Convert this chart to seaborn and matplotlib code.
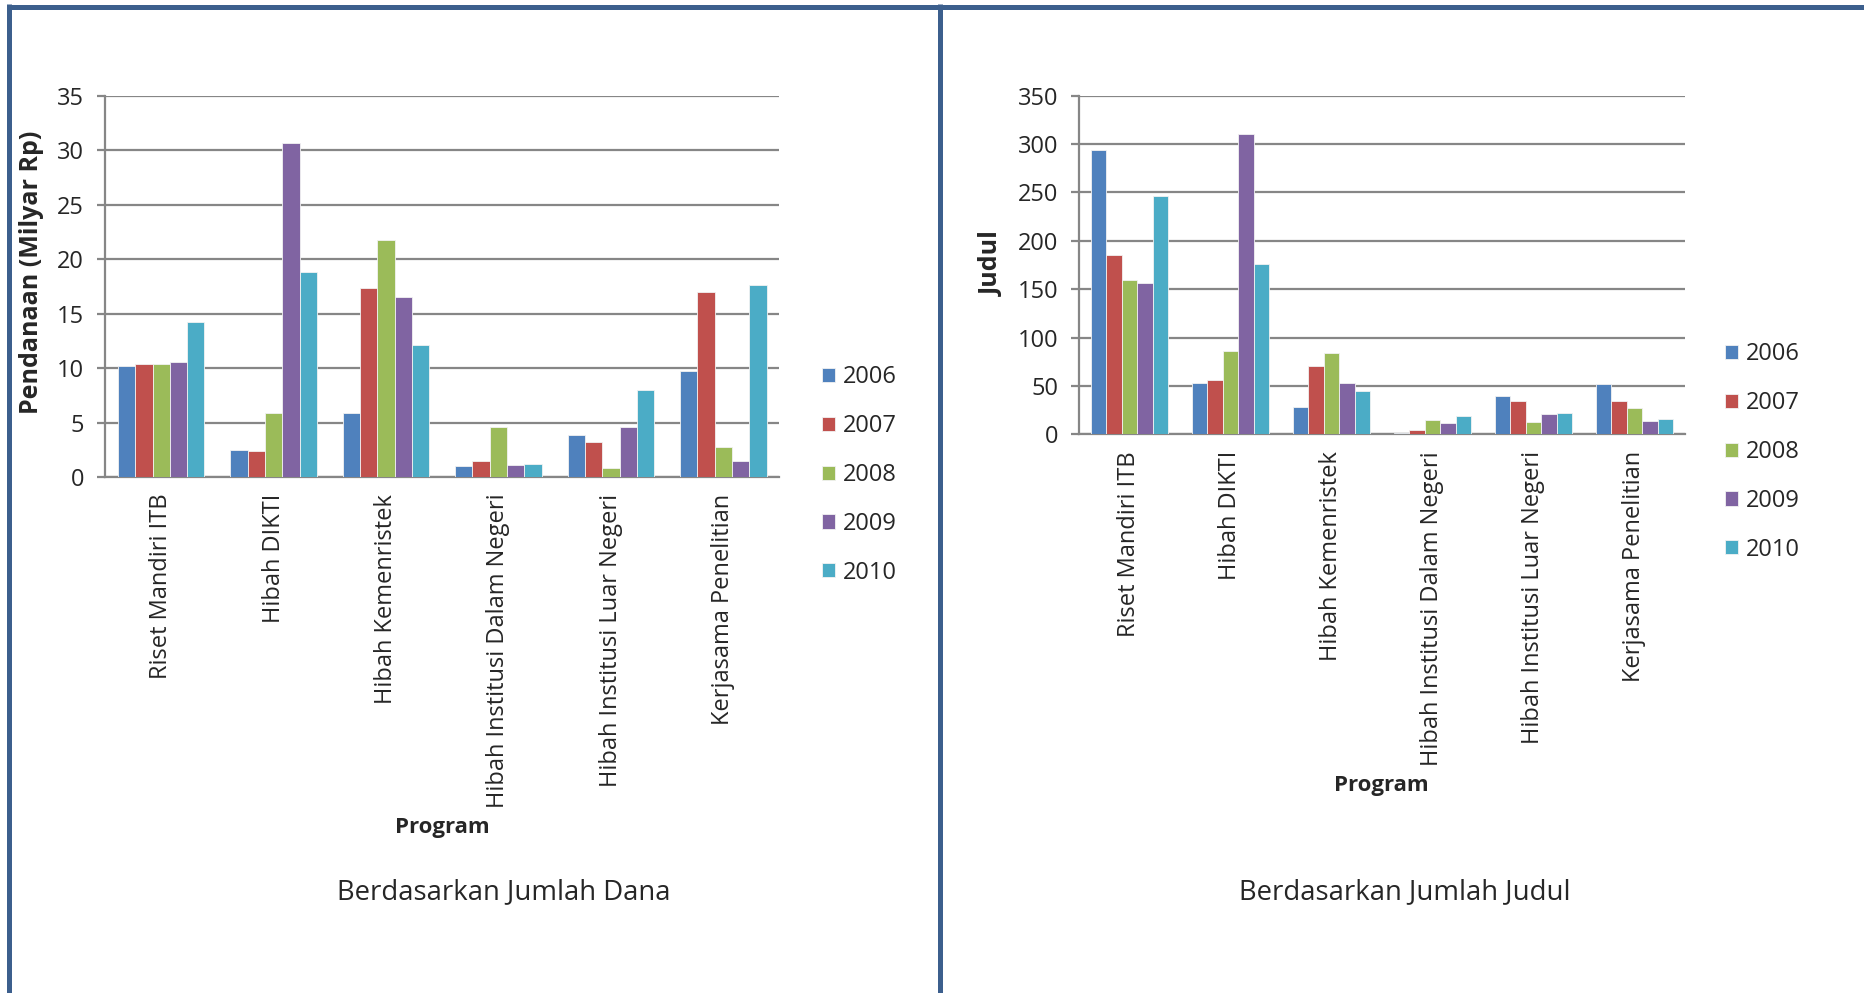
import matplotlib
matplotlib.use("Agg")
import matplotlib.pyplot as plt
from matplotlib.lines import Line2D
import pandas as pd
import seaborn as sns

# Research programmes and the years compared
programs = [
    "Riset Mandiri ITB",
    "Hibah DIKTI",
    "Hibah Kemenristek",
    "Hibah Institusi Dalam Negeri",
    "Hibah Institusi Luar Negeri",
    "Kerjasama Penelitian",
]
years = ["2006", "2007", "2008", "2009", "2010"]

# Funding per programme (billion Rp), one list per year
dana_2006 = [10.2, 2.5, 5.9, 1.0, 3.9, 9.7]
dana_2007 = [10.4, 2.4, 17.4, 1.5, 3.2, 17.0]
dana_2008 = [10.4, 5.9, 21.8, 4.6, 0.8, 2.8]
dana_2009 = [10.6, 30.7, 16.5, 1.1, 4.6, 1.5]
dana_2010 = [14.2, 18.8, 12.1, 1.2, 8.0, 17.6]

# Number of research titles per programme, one list per year
judul_2006 = [294, 53, 28, 1, 40, 52]
judul_2007 = [185, 56, 71, 4, 34, 34]
judul_2008 = [160, 86, 84, 15, 13, 27]
judul_2009 = [156, 310, 53, 12, 21, 14]
judul_2010 = [246, 176, 45, 19, 22, 16]

palette = ["#4F81BD", "#C0504D", "#9BBB59", "#8064A2", "#4BACC6"]
frame_color = "#3C5F8D"
grid_color = "#868686"

dana = [dana_2006, dana_2007, dana_2008, dana_2009, dana_2010]
judul = [judul_2006, judul_2007, judul_2008, judul_2009, judul_2010]


def long_table(series):
    rows = []
    for year, vals in zip(years, series):
        for prog, v in zip(programs, vals):
            rows.append({"Program": prog, "Tahun": year, "Nilai": v})
    return pd.DataFrame(rows)


sns.set_theme(style="white")
plt.rcParams["font.family"] = ["Open Sans", "DejaVu Sans"]

W, H = 1865, 993
fig = plt.figure(figsize=(W / 100, H / 100), dpi=100)
fig.patch.set_facecolor("white")


def px_axes(x0, y0, x1, y1):
    return fig.add_axes([x0 / W, 1 - y1 / H, (x1 - x0) / W, (y1 - y0) / H])


ax1 = px_axes(105, 96, 779.5, 477)
ax2 = px_axes(1079, 95.7, 1685, 434.3)

tick_fs = 17


def draw(ax, series, ymax, step, legend_xy):
    df = long_table(series)
    sns.barplot(
        data=df, x="Program", y="Nilai", hue="Tahun", order=programs,
        hue_order=years, palette=palette, saturation=1, width=0.77,
        edgecolor="#F2F2F2", linewidth=0.6, ax=ax, zorder=3,
    )
    ax.set_ylim(0, ymax)
    ax.set_xlim(-0.5, len(programs) - 0.5)
    ax.set_yticks(range(0, ymax + 1, step))
    ax.yaxis.grid(True, color=grid_color, linewidth=1.6, zorder=0)
    ax.set_axisbelow(True)
    for side in ["top", "right"]:
        ax.spines[side].set_visible(False)
    for side in ["left", "bottom"]:
        ax.spines[side].set_color(grid_color)
        ax.spines[side].set_linewidth(1.6)
    ax.tick_params(axis="y", length=6, width=1.6, color=grid_color,
                   pad=9, labelsize=tick_fs, left=True)
    ax.tick_params(axis="x", length=0, pad=12, labelsize=tick_fs)
    ax.set_xticks(range(len(programs)))
    ax.set_xticklabels(programs, rotation=90, va="top", ha="center")
    ax.set_xlabel("")
    ax.set_ylabel("")
    handles, labels = ax.get_legend_handles_labels()
    ax.legend(
        handles, labels, loc="center left",
        bbox_to_anchor=(legend_xy[0] / W, 1 - legend_xy[1] / H),
        bbox_transform=fig.transFigure, frameon=False, fontsize=tick_fs,
        handlelength=0.55, handleheight=0.55, handletextpad=0.35,
        labelspacing=1.05, borderpad=0, borderaxespad=0,
    )


draw(ax1, dana, 35, 5, (822, 475))
draw(ax2, judul, 350, 50, (1725, 452))

# Axis titles and captions
fig.text(32 / W, 1 - 272 / H, "Pendanaan (Milyar Rp)", rotation=90,
         ha="center", va="center", fontsize=18, fontweight="bold")
fig.text(992 / W, 1 - 264 / H, "Judul", rotation=90,
         ha="center", va="center", fontsize=18, fontweight="bold")
fig.text(442 / W, 1 - 828 / H, "Program", ha="center", va="center",
         fontsize=16, fontweight="bold")
fig.text(1381 / W, 1 - 785 / H, "Program", ha="center", va="center",
         fontsize=16, fontweight="bold")
fig.text(504 / W, 1 - 892 / H, "Berdasarkan Jumlah Dana", ha="center",
         va="center", fontsize=19.8)
fig.text(1405 / W, 1 - 892 / H, "Berdasarkan Jumlah Judul", ha="center",
         va="center", fontsize=19.8)

# Page frame around the two panels
lw = 5 * 0.72
fig.add_artist(Line2D([7 / W, 1], [1 - 6.5 / H, 1 - 6.5 / H],
                      transform=fig.transFigure, color=frame_color, lw=lw,
                      solid_capstyle="butt"))
fig.add_artist(Line2D([9.5 / W, 9.5 / W], [0, 1 - 4 / H],
                      transform=fig.transFigure, color=frame_color, lw=lw,
                      solid_capstyle="butt"))
fig.add_artist(Line2D([940 / W, 940 / W], [0, 1 - 4 / H],
                      transform=fig.transFigure, color=frame_color, lw=lw,
                      solid_capstyle="butt"))

fig.savefig("out.png", dpi=100, facecolor="white")
